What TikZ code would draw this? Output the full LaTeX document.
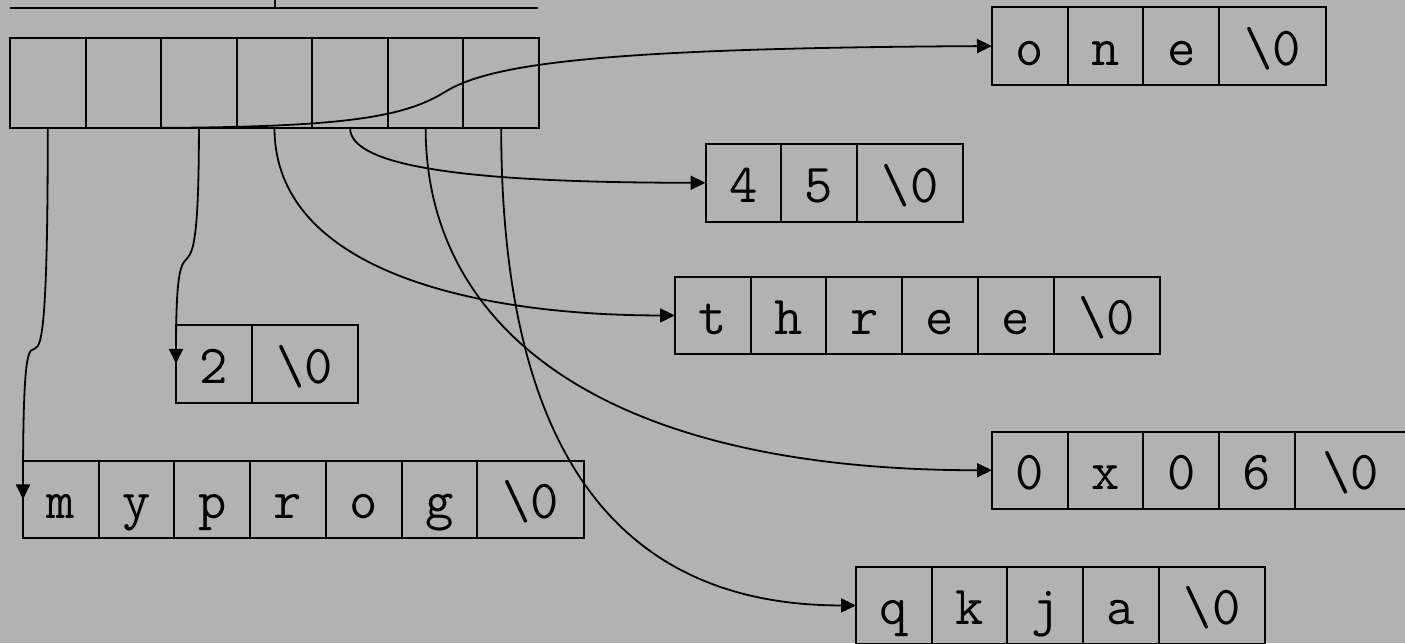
\documentclass[tikz,border=0pt]{standalone}
\usepackage{fontspec}
\usetikzlibrary{arrows.meta,positioning,calc}
\definecolor{bggray}{RGB}{178,178,178}
\tikzset{
  cellbase/.style={draw, line width=2pt, inner sep=0pt, outer sep=0pt,
    text height=39pt, text depth=0pt, font={\ttfamily\fontsize{55}{60}\selectfont}},
  cell/.style={cellbase, minimum width=75.7pt, minimum height=77.5pt},
  endcell/.style={cellbase, minimum width=106.5pt, minimum height=77.5pt},
  arrcell/.style={draw, line width=2pt, inner sep=0pt, outer sep=0pt,
    minimum width=75.57pt, minimum height=90pt},
  ptr/.style={line width=1.8pt, -{Triangle[length=15pt,width=14pt]}},
  rule/.style={line width=2pt}
}
\begin{document}
\begin{tikzpicture}[x=1pt,y=-1pt]
\fill[bggray] (0,0) rectangle (1405,643);
\useasboundingbox (0,0) rectangle (1405,643);

% partial structure at the top
\coordinate (topL) at (10,8);
\coordinate (topR) at (538,8);
\coordinate (tickB) at (274.5,8);
\coordinate (tickT) at (274.5,-6);
\draw[rule] (topL) -- (topR);
\draw[rule] (tickB) -- (tickT);

% pointer array
\node[arrcell, anchor=north west] (a1) at (10,38) {};
\node[arrcell, right=0pt of a1] (a2) {};
\node[arrcell, right=0pt of a2] (a3) {};
\node[arrcell, right=0pt of a3] (a4) {};
\node[arrcell, right=0pt of a4] (a5) {};
\node[arrcell, right=0pt of a5] (a6) {};
\node[arrcell, right=0pt of a6] (a7) {};

% "one"
\node[cell, anchor=north west] (o1) at (992,7.3) {o};
\node[cell, right=0pt of o1] (o2) {n};
\node[cell, right=0pt of o2] (o3) {e};
\node[endcell, right=0pt of o3] (o4) {\textbackslash 0};

% "45"
\node[cell, anchor=north west] (f1) at (705.5,144) {4};
\node[cell, right=0pt of f1] (f2) {5};
\node[endcell, right=0pt of f2] (f3) {\textbackslash 0};

% "three"
\node[cell, anchor=north west] (h1) at (675,276.7) {t};
\node[cell, right=0pt of h1] (h2) {h};
\node[cell, right=0pt of h2] (h3) {r};
\node[cell, right=0pt of h3] (h4) {e};
\node[cell, right=0pt of h4] (h5) {e};
\node[endcell, right=0pt of h5] (h6) {\textbackslash 0};

% "2"
\node[cell, anchor=north west] (t1) at (176,325) {2};
\node[endcell, right=0pt of t1] (t2) {\textbackslash 0};

% "0x06"
\node[cell, anchor=north west] (x1) at (992,431.5) {0};
\node[cell, right=0pt of x1] (x2) {x};
\node[cell, right=0pt of x2] (x3) {0};
\node[cell, right=0pt of x3] (x4) {6};
\node[endcell, right=0pt of x4, minimum width=112pt] (x5) {\textbackslash 0};

% "myprog"
\node[cell, anchor=north west] (m1) at (23,460.7) {m};
\node[cell, right=0pt of m1] (m2) {y};
\node[cell, right=0pt of m2] (m3) {p};
\node[cell, right=0pt of m3] (m4) {r};
\node[cell, right=0pt of m4] (m5) {o};
\node[cell, right=0pt of m5] (m6) {g};
\node[endcell, right=0pt of m6] (m7) {\textbackslash 0};

% "qkja"
\node[cell, anchor=north west] (q1) at (856,566.7) {q};
\node[cell, right=0pt of q1] (q2) {k};
\node[cell, right=0pt of q2] (q3) {j};
\node[cell, right=0pt of q3] (q4) {a};
\node[endcell, right=0pt of q4] (q5) {\textbackslash 0};

% pointers
\draw[ptr] (a1.south) .. controls ($(a1.south)+(0,400)$) and ($(m1.west)+(0,-303)$) .. (m1.west);
\draw[ptr] (a2.south) .. controls ($(a2.south)+(206.5,0)$) and ($(a2.south)+(276.5,-8)$) .. ($(a2.south)+(321.5,-36)$)
  .. controls ($(a2.south)+(366.5,-64)$) and ($(o1.west)+(-392,2)$) .. (o1.west);
\draw[ptr] (a3.south) .. controls ($(a3.south)+(0,220)$) and ($(t1.west)+(0,-183)$) .. (t1.west);
\draw[ptr] (a4.south) .. controls ($(a4.south)+(0,143)$) and ($(h1.west)+(-199,0)$) .. (h1.west);
\draw[ptr] (a5.south) .. controls ($(a5.south)+(0,39)$) and ($(f1.west)+(-235,0)$) .. (f1.west);
\draw[ptr] (a6.south) .. controls ($(a6.south)+(0,196)$) and ($(x1.west)+(-397,0)$) .. (x1.west);
\draw[ptr] (a7.south) .. controls ($(a7.south)+(0,327)$) and ($(q1.west)+(-236,0)$) .. (q1.west);
\end{tikzpicture}
\end{document}
